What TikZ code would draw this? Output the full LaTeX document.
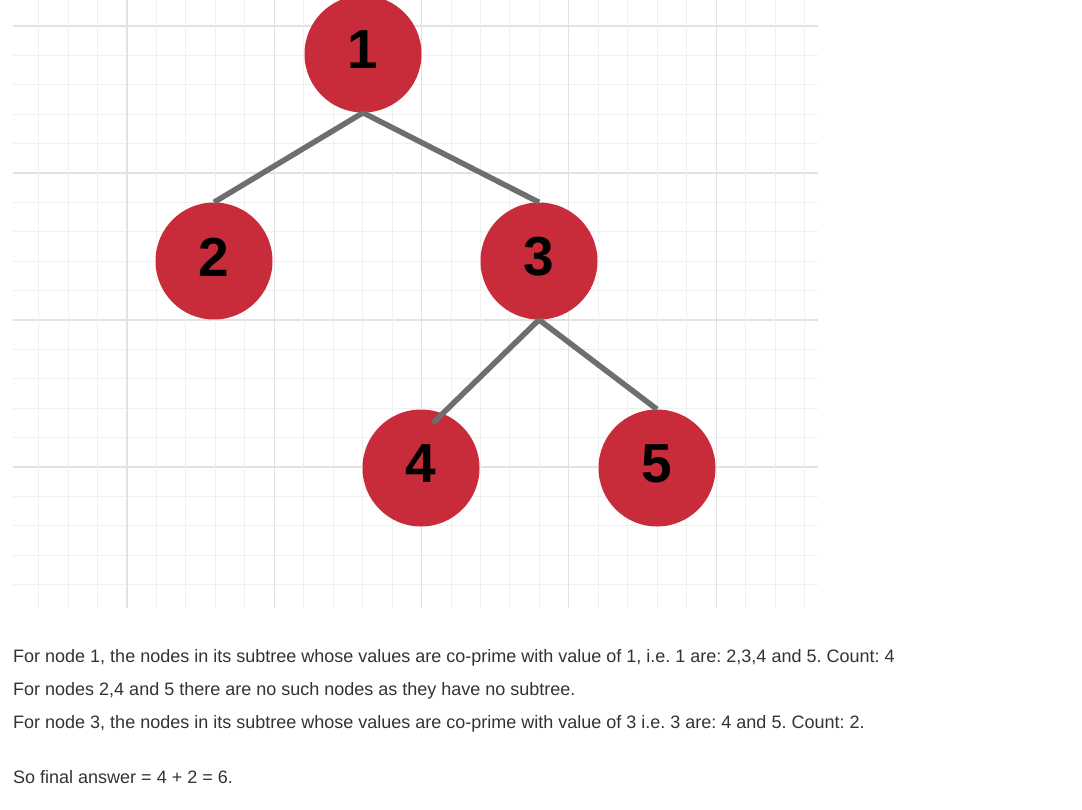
\documentclass[tikz,border=0pt]{standalone}
\usepackage{fontspec}
\setmainfont{Liberation Sans}
\usetikzlibrary{calc}
\frenchspacing
\definecolor{nodered}{HTML}{C82C3A}
\definecolor{edgegray}{HTML}{6E6E6E}
\definecolor{minorgrid}{HTML}{F0F0F0}
\definecolor{majorgrid}{HTML}{E2E2E2}
\definecolor{txt}{HTML}{333333}
\tikzset{
  bubble/.style={circle, fill=nodered, minimum size=117pt, inner sep=0pt},
  num/.style={font=\fontsize{55}{55}\selectfont\bfseries, text=black, inner sep=0pt},
  edge/.style={draw=edgegray, line width=5.5pt},
  minorline/.style={draw=minorgrid, line width=1pt},
  majorline/.style={draw=majorgrid, line width=1.2pt},
  para/.style={font=\fontsize{18}{22}\selectfont, text=txt, anchor=base west, inner sep=0pt}
}
\begin{document}
\begin{tikzpicture}[x=1pt,y=-1pt]
\useasboundingbox (0,0) rectangle (1082,809);
\fill[white] (0,0) rectangle (1082,809);
% grid
\foreach \k in {0,...,19}{
  \pgfmathsetmacro{\yy}{26+\k*29.4}
  \pgfmathtruncatemacro{\m}{mod(\k,5)}
  \ifnum\m=0 \draw[majorline] (13,\yy) -- (818,\yy); \else \draw[minorline] (13,\yy) -- (818,\yy); \fi
}
\foreach \j in {0,...,26}{
  \pgfmathsetmacro{\xx}{38.6+\j*29.46}
  \pgfmathtruncatemacro{\m}{mod(\j,5)}
  \ifnum\m=3 \draw[majorline] (\xx,0) -- (\xx,608); \else \draw[minorline] (\xx,0) -- (\xx,608); \fi
}
% nodes
\node[bubble] (n1) at (363,54) {};
\node[bubble] (n2) at (214,261) {};
\node[bubble] (n3) at (539,261) {};
\node[bubble] (n4) at (421,468) {};
\node[bubble] (n5) at (657,468) {};
\node[num] (t1) at ($(n1)+(0,-4)$) {1};
\node[num] (t2) at ($(n2)+(0,-4)$) {2};
\node[num] (t3) at ($(n3)+(0,-4)$) {3};
\node[num] (t4) at ($(n4)+(0,-4)$) {4};
\node[num] (t5) at ($(n5)+(0,-4)$) {5};
\coordinate (e4) at ($(n4)+(12,-45)$);
% edges
\draw[edge] (n1.south) -- (n2.north);
\draw[edge] (n1.south) -- (n3.north);
\draw[edge] (n3.south) -- (e4);
\draw[edge] (n3.south) -- (n5.north);
% text
\node[para] (p1) at (13,662) {For node 1, the nodes in its subtree whose values are co-prime with value of 1, i.e. 1 are: 2,3,4 and 5. Count: 4};
\node[para] (p2) at (13,695) {For nodes 2,4 and 5 there are no such nodes as they have no subtree.};
\node[para] (p3) at (13,728) {For node 3, the nodes in its subtree whose values are co-prime with value of 3 i.e. 3 are: 4 and 5. Count: 2.};
\node[para] (p4) at (13,783) {So final answer = 4 + 2 = 6.};
\end{tikzpicture}
\end{document}
